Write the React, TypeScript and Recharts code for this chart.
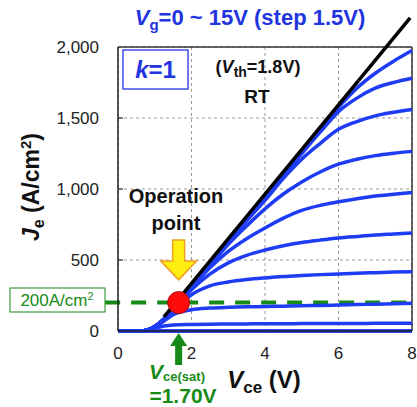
import React from 'react';
import { LineChart, Line, XAxis, YAxis, CartesianGrid, ReferenceLine, ReferenceDot } from 'recharts';

// ---- data ----
const VCE = [0, 0.6, 0.8, 1.0, 1.25, 1.5, 2, 2.5, 3, 3.5, 4, 4.5, 5, 5.5, 6, 6.5, 7, 7.5, 8];
const J_VG15 = [0, 0, 8, 32, 85, 160, 315, 470, 625, 785, 940, 1100, 1260, 1420, 1575, 1710, 1815, 1900, 1975];
const J_VG13_5 = [0, 0, 8, 32, 85, 160, 315, 470, 625, 785, 940, 1095, 1250, 1400, 1545, 1640, 1710, 1750, 1780];
const J_VG12 = [0, 0, 8, 32, 85, 160, 312, 465, 620, 775, 920, 1075, 1210, 1320, 1420, 1475, 1515, 1540, 1560];
const J_VG10_5 = [0, 0, 8, 32, 85, 158, 310, 460, 610, 740, 860, 965, 1050, 1120, 1175, 1210, 1235, 1252, 1265];
const J_VG9 = [0, 0, 8, 32, 84, 156, 305, 445, 560, 650, 725, 795, 850, 885, 910, 932, 950, 963, 975];
const J_VG7_5 = [0, 0, 8, 31, 82, 150, 290, 400, 480, 533, 570, 600, 623, 640, 655, 666, 676, 683, 690];
const J_VG6 = [0, 0, 8, 30, 78, 140, 255, 318, 345, 362, 374, 384, 391, 397, 402, 407, 411, 415, 418];
const J_VG4_5 = [0, 0, 7, 28, 70, 115, 150, 162, 167, 170, 172, 175, 178, 180, 183, 186, 189, 192, 195];
const J_VG3 = [0, 0, 6, 20, 35, 42, 46, 48, 49, 50, 51, 51, 52, 52, 53, 53, 54, 54, 55];
const J_VG1_5 = [0, 0, 0, 0, 0, 0, 0, 0, 0, 0, 0, 0, 0, 0, 0, 0, 0, 0, 0];
const J_VG0 = [0, 0, 0, 0, 0, 0, 0, 0, 0, 0, 0, 0, 0, 0, 0, 0, 0, 0, 0];

const X_TICKS = [0, 2, 4, 6, 8];
const Y_TICKS = [0, 500, 1000, 1500, 2000];

// saturation (black) line end points
const SAT_LINE = [
  { x: 1.25, y: 100 },
  { x: 7.95, y: 2205 },
];
const OP_V = 1.65; // operation point Vce
const OP_J = 200; // operation point Je
const LEVEL_LEFT_V = -0.35;

const SERIES = [
  { key: 'vg15', values: J_VG15 },
  { key: 'vg13_5', values: J_VG13_5 },
  { key: 'vg12', values: J_VG12 },
  { key: 'vg10_5', values: J_VG10_5 },
  { key: 'vg9', values: J_VG9 },
  { key: 'vg7_5', values: J_VG7_5 },
  { key: 'vg6', values: J_VG6 },
  { key: 'vg4_5', values: J_VG4_5 },
  { key: 'vg3', values: J_VG3 },
  { key: 'vg1_5', values: J_VG1_5 },
  { key: 'vg0', values: J_VG0 },
];

const rows = VCE.map((v, i) => {
  const r: Record<string, number> = { v };
  SERIES.forEach((s) => (r[s.key] = s.values[i]));
  return r;
});

const FONT = '"Liberation Sans", Arial, sans-serif';
const BLUE = '#1f3cf5';
const TBLUE = '#2234e0';
const GREEN = '#188a18';

const Y_TICK_MARGIN = 19;

const YTick = (props: any) => {
  const { x, y, payload } = props;
  const val = payload.value as number;
  const ax = x + Y_TICK_MARGIN;
  return (
    <g>
      <text x={x} y={y} dy="0.355em" textAnchor="end" fontFamily={FONT} fontSize={17} fill="#222">
        {val.toLocaleString('en-US')}
      </text>
      {val > 0 && val < 2000 && <line x1={ax} x2={ax + 5} y1={y} y2={y} stroke="#333" strokeWidth={1.2} />}
    </g>
  );
};

const YellowArrow = (props: any) => {
  const { cx, cy } = props;
  const sw = 6, hw = 18, hh = 19, h = 40;
  const pts = [
    [cx - sw, cy - h], [cx + sw, cy - h], [cx + sw, cy - hh], [cx + hw, cy - hh],
    [cx, cy], [cx - hw, cy - hh], [cx - sw, cy - hh],
  ].map((p) => p.join(',')).join(' ');
  return <polygon points={pts} fill="#ffef10" stroke="#f0a020" strokeWidth={1.5} />;
};

const GreenArrow = (props: any) => {
  const { cx, cy } = props;
  const top = cy + 2;
  const sw = 3.5, hw = 8.5, hh = 13, h = 32;
  const pts = [
    [cx, top], [cx + hw, top + hh], [cx + sw, top + hh], [cx + sw, top + h],
    [cx - sw, top + h], [cx - sw, top + hh], [cx - hw, top + hh],
  ].map((p) => p.join(',')).join(' ');
  return <polygon points={pts} fill={GREEN} />;
};

export default function App() {
  return (
    <div style={{ position: 'absolute', left: 0, top: 0, width: 417, height: 407, background: '#fff' }}>
      <LineChart width={417} height={407} data={rows} margin={{ top: 47, right: 5, left: 58, bottom: 46 }}>
        <CartesianGrid stroke="#9a9a9a" strokeDasharray="3 3" strokeWidth={1} />
        <XAxis
          dataKey="v"
          type="number"
          domain={[0, 8]}
          ticks={X_TICKS}
          height={30}
          tickLine={false}
          tickSize={0}
          tickMargin={16}
          axisLine={{ stroke: '#222', strokeWidth: 1.5 }}
          tick={{ fontFamily: FONT, fontSize: 17, fill: '#222' }}
        />
        <YAxis
          type="number"
          domain={[0, 2000]}
          ticks={Y_TICKS}
          width={60}
          tickLine={false}
          tickSize={0}
          tickMargin={Y_TICK_MARGIN}
          axisLine={{ stroke: '#222', strokeWidth: 1.5 }}
          tick={<YTick />}
        />
        <ReferenceLine y={2000} stroke="#333" strokeWidth={1.5} />
        <ReferenceLine x={8} stroke="#333" strokeWidth={1.5} />
        <ReferenceLine
          segment={[{ x: LEVEL_LEFT_V, y: OP_J }, { x: 8, y: OP_J }]}
          ifOverflow="visible"
          stroke={GREEN}
          strokeWidth={4}
          strokeDasharray="15 11"
        />
        {SERIES.map((s) => (
          <Line
            key={s.key}
            dataKey={s.key}
            type="monotone"
            stroke={BLUE}
            strokeWidth={3.5}
            dot={false}
            isAnimationActive={false}
          />
        ))}
        <ReferenceLine segment={SAT_LINE} ifOverflow="visible" stroke="#000" strokeWidth={3.5} />
        <ReferenceDot x={OP_V} y={OP_J} r={11} fill="#ff0a0a" stroke="#a01010" strokeWidth={1} ifOverflow="visible" />
        <ReferenceDot x={OP_V} y={360} ifOverflow="visible" shape={<YellowArrow />} />
        <ReferenceDot x={OP_V} y={0} ifOverflow="visible" shape={<GreenArrow />} />
      </LineChart>
      <svg
        width={417}
        height={407}
        style={{ position: 'absolute', left: 0, top: 0, pointerEvents: 'none' }}
        fontFamily={FONT}
      >
        {/* title */}
        <text x={250} y={25} textAnchor="middle" fontSize={22} fontWeight="bold" fill={TBLUE}>
          <tspan fontStyle="italic">V</tspan>
          <tspan fontSize={15} dy={5}>g</tspan>
          <tspan dy={-5}>=0 ~ 15V (step 1.5V)</tspan>
        </text>
        {/* k=1 box */}
        <rect x={123} y={50} width={65} height={39} fill="#fff" stroke={TBLUE} strokeWidth={1.3} />
        <text x={155.5} y={78} textAnchor="middle" fontSize={24} fontWeight="bold" fill={TBLUE}>
          <tspan fontStyle="italic">k</tspan>=1
        </text>
        {/* Vth */}
        <text x={258} y={73} textAnchor="middle" fontSize={18} fontWeight="bold" fill="#111">
          (<tspan fontStyle="italic">V</tspan>
          <tspan fontSize={14} dy={4}>th</tspan>
          <tspan dy={-4}>=1.8V)</tspan>
        </text>
        <text x={257} y={103} textAnchor="middle" fontSize={19} fontWeight="bold" fill="#111">RT</text>
        {/* Operation point */}
        <text x={176} y={203} textAnchor="middle" fontSize={20} fontWeight="bold" fill="#111">Operation</text>
        <text x={176} y={230} textAnchor="middle" fontSize={20} fontWeight="bold" fill="#111">point</text>
        {/* 200A/cm2 box */}
        <rect x={10} y={288} width={95} height={24} fill="#fff" stroke={GREEN} strokeWidth={1} />
        <text x={57} y={306} textAnchor="middle" fontSize={17} fill={GREEN}>
          200A/cm<tspan fontSize={11} dy={-6}>2</tspan>
        </text>
        {/* Vce(sat) label */}
        <text x={177} y={379} textAnchor="middle" fontSize={21} fontWeight="bold" fill={GREEN}>
          <tspan fontStyle="italic">V</tspan>
          <tspan fontSize={13} dy={2}>ce(sat)</tspan>
        </text>
        <text x={183} y={403} textAnchor="middle" fontSize={21} fontWeight="bold" fill={GREEN}>=1.70V</text>
        {/* axis titles */}
        <text x={264} y={388} textAnchor="middle" fontSize={24} fontWeight="bold" fill="#111">
          <tspan fontStyle="italic">V</tspan>
          <tspan fontSize={17} dy={5}>ce</tspan>
          <tspan dy={-5}> (V)</tspan>
        </text>
        <text
          transform="translate(39,187) rotate(-90)"
          textAnchor="middle"
          fontSize={23}
          fontWeight="bold"
          fill="#111"
        >
          <tspan fontStyle="italic">J</tspan>
          <tspan fontSize={16} dy={5}>e</tspan>
          <tspan dy={-5}> (A/cm</tspan>
          <tspan fontSize={15} dy={-8}>2</tspan>
          <tspan dy={8}>)</tspan>
        </text>
      </svg>
    </div>
  );
}
